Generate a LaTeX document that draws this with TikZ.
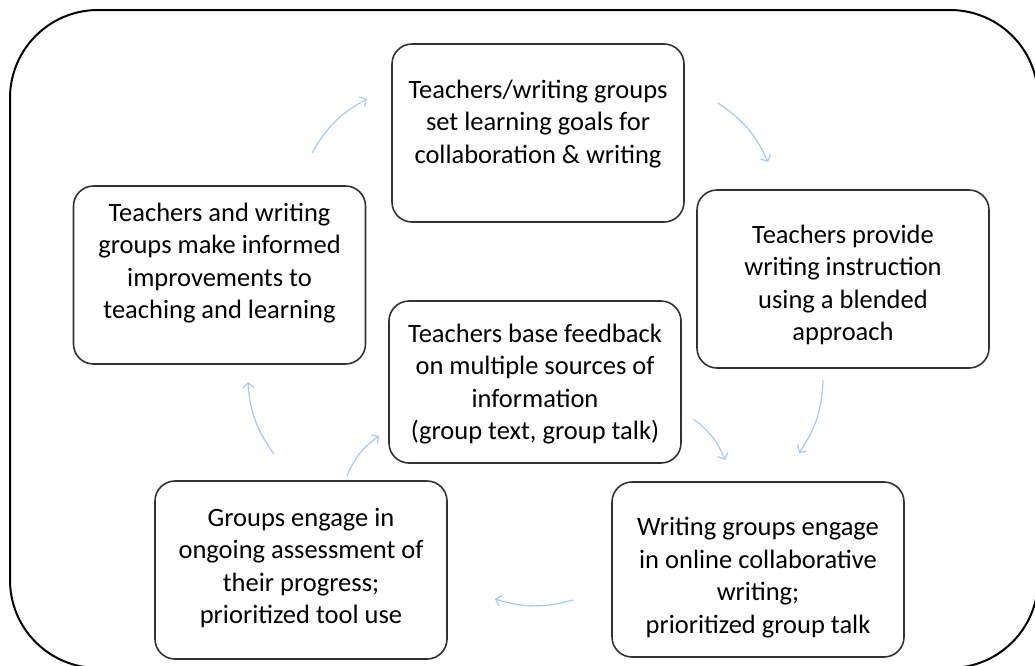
\documentclass[tikz,border=0pt]{standalone}
\usepackage{fontspec}
\setmainfont{Carlito}
\usepackage{tikz}
\usetikzlibrary{positioning,arrows.meta}
\definecolor{flowblue}{RGB}{168,202,236}
\definecolor{boxline}{RGB}{50,50,50}
\tikzset{
    frame/.style = {draw = black, line width = 2pt, rounded corners = 88pt},
    stepbox/.style = {rectangle, draw = boxline, line width = 1.6pt, rounded corners = 20pt, minimum width = 292pt, minimum height = 178pt},
    steptext/.style = {align = center, font = \fontsize{26.5}{32.5}\selectfont},
    flow/.style = {draw = flowblue, line width = 1.2pt, -{Straight Barb[length = 5pt, width = 11pt]}, bend left = 16}
}
\begin{document}
\begin{tikzpicture}[x = 1pt, y = -1pt]
        \useasboundingbox (0,0) rectangle (1035,665);
        \draw [frame] (10,10) rectangle (1038,668);
        \node [stepbox] (goals) at (538,133) {};
        \node [stepbox] (instruct) at (843,279) {};
        \node [stepbox, minimum height = 175pt] (online) at (758,569.5) {};
        \node [stepbox] (assess) at (301,570) {};
        \node [stepbox] (improve) at (219.5,275) {};
        \node [stepbox, minimum height = 162pt] (feedback) at (535,382) {};
        \node [steptext] (goalst) at ([yshift = 9pt] goals.center) {Teachers/writing groups\\ set learning goals for\\ collaboration \& writing};
        \node [steptext] (instructt) at ([yshift = -6pt] instruct.center) {Teachers provide\\ writing instruction\\ using a blended\\ approach};
        \node [steptext] (onlinet) at ([yshift = -8pt] online.center) {Writing groups engage\\ in online collaborative\\ writing;\\ prioritized group talk};
        \node [steptext] (assesst) at ([yshift = 2pt] assess.center) {Groups engage in\\ ongoing assessment of\\ their progress;\\ prioritized tool use};
        \node [steptext] (improvet) at ([yshift = 12pt] improve.center) {Teachers and writing\\ groups make informed\\ improvements to\\ teaching and learning};
        \node [steptext] (feedbackt) at ([yshift = -2pt] feedback.center) {Teachers base feedback\\ on multiple sources of\\ information\\ (group text, group talk)};
        \coordinate (a1) at (312,153);
        \coordinate (a2) at (367,99);
        \coordinate (b1) at (718,103);
        \coordinate (b2) at (768,162);
        \coordinate (c1) at (823,380);
        \coordinate (c2) at (799,453);
        \coordinate (d1) at (573,600);
        \coordinate (d2) at (495,599);
        \coordinate (e1) at (274,454);
        \coordinate (e2) at (248,382);
        \coordinate (f1) at (347,476);
        \coordinate (f2) at (379,436);
        \coordinate (g1) at (693,419);
        \coordinate (g2) at (725,460);
        \draw [flow] (a1) to (a2);
        \draw [flow] (b1) to (b2);
        \draw [flow] (c1) to (c2);
        \draw [flow] (d1) to (d2);
        \draw [flow] (e1) to (e2);
        \draw [flow] (f1) to (f2);
        \draw [flow] (g1) to (g2);
    \end{tikzpicture}
\end{document}
